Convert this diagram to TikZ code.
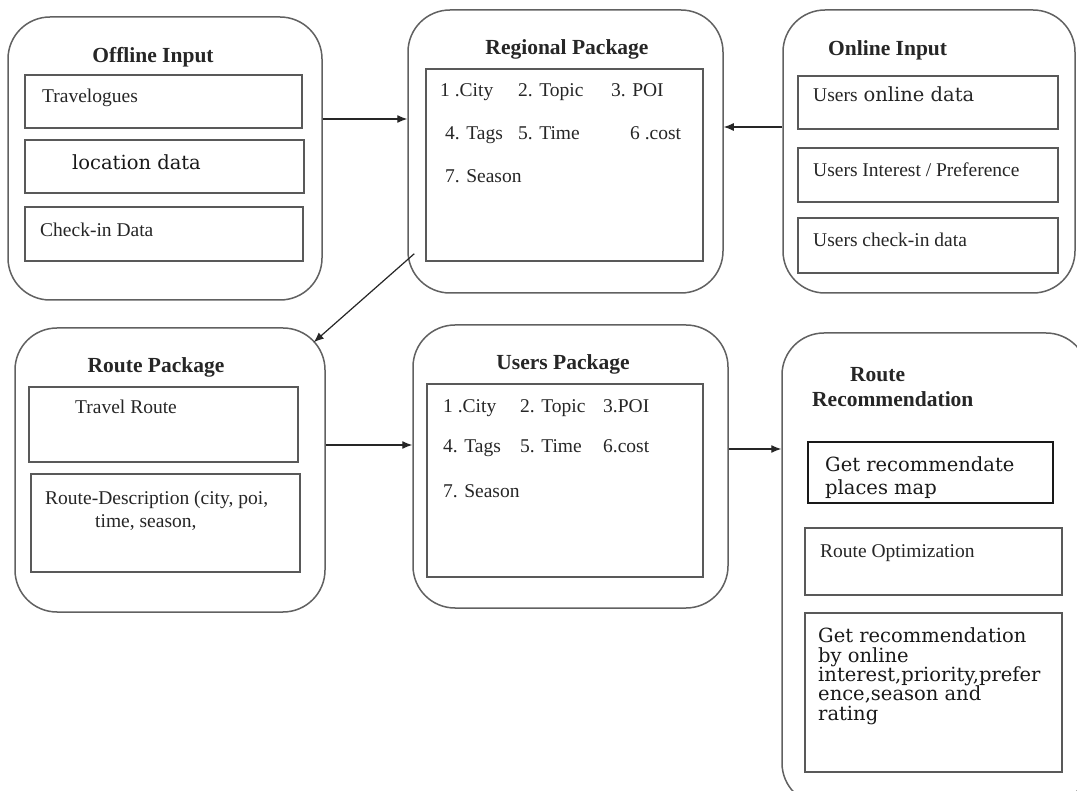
\documentclass[tikz,border=0pt]{standalone}
\usepackage{fontspec}
\setmainfont{Liberation Serif}
\newfontfamily\camfont{DejaVu Serif}
\usetikzlibrary{arrows.meta,calc}
\begin{document}
\begin{tikzpicture}[x=1pt,y=-1pt,
 outer/.style={draw=black!62, line width=1.5pt, rounded corners=42pt, inner sep=0pt},
 inbox/.style={draw=black!65, line width=1.8pt, inner sep=0pt},
 txt/.style={anchor=base west, inner sep=0pt, font=\fontsize{19.5}{22}\selectfont, text=black!85},
 ttl/.style={anchor=base, inner sep=0pt, font=\fontsize{21.5}{25}\selectfont\bfseries, text=black!85},
 cam/.style={anchor=base west, inner sep=0pt, font=\fontsize{19.5}{22}\camfont, text=black!90},
 arr/.style={-{Latex[length=10pt,width=8pt]}, line width=1.2pt, draw=black!85}
]
\clip (0,0) rectangle (1077,791);
\fill[white] (0,0) rectangle (1077,791);

% Offline Input
\node[outer, minimum width=314pt, minimum height=283pt] (off) at (165,158.5) {};
\node[ttl] (offt) at (153,63) {Offline Input};
\node[inbox, minimum width=277pt, minimum height=53pt] (off1) at (163.5,101.5) {};
\node[inbox, minimum width=279pt, minimum height=53pt] (off2) at (164.5,166.5) {};
\node[inbox, minimum width=278pt, minimum height=54pt] (off3) at (164,234) {};
\node[txt] (off1t) at (42,103) {Travelogues};
\node[cam] (off2t) at (72,170) {location data};
\node[txt] (off3t) at (40,237) {Check-in Data};

% Regional Package
\node[outer, minimum width=315pt, minimum height=283pt] (reg) at (565.5,151.5) {};
\node[ttl] (regt) at (567,55) {Regional Package};
\node[inbox, minimum width=277pt, minimum height=192pt] (regi) at (564.5,165) {};
\node[txt] (r1) at (440,97) {1 .City};
\node[txt] (r2) at (518,97) {2. Topic};
\node[txt] (r3) at (611,97) {3. POI};
\node[txt] (r4) at (445,140) {4. Tags};
\node[txt] (r5) at (518,140) {5. Time};
\node[txt] (r6) at (630,140) {6 .cost};
\node[txt] (r7) at (445,183) {7. Season};

% Online Input
\node[outer, minimum width=292pt, minimum height=283pt] (on) at (929,151.5) {};
\node[ttl, anchor=base west] (ont) at (828,56) {Online Input};
\node[inbox, minimum width=260pt, minimum height=53pt] (on1) at (928,102.5) {};
\node[inbox, minimum width=260pt, minimum height=54pt] (on2) at (928,175) {};
\node[inbox, minimum width=260pt, minimum height=55pt] (on3) at (928,245.5) {};
\node[txt] (on1t) at (813,102) {Users\hspace{6pt}{\camfont online data}};
\node[txt] (on2t) at (813,177) {Users Interest / Preference};
\node[txt] (on3t) at (813,247) {Users check-in data};

% Route Package
\node[outer, minimum width=310pt, minimum height=284pt] (rp) at (170,470) {};
\node[ttl] (rpt) at (156,373) {Route Package};
\node[inbox, minimum width=269pt, minimum height=75pt] (rp1) at (163.5,424.5) {};
\node[inbox, minimum width=269pt, minimum height=98pt] (rp2) at (165.5,523) {};
\node[txt] (rp1t) at (75,414) {Travel Route};
\node[txt, align=left, font=\fontsize{19.5}{23}\selectfont] (rp2t) at (45,528) {Route-Description (city, poi,\\\hspace*{50pt}time, season,};

% Users Package
\node[outer, minimum width=315pt, minimum height=283pt] (up) at (570.5,466.5) {};
\node[ttl] (upt) at (563,370) {Users Package};
\node[inbox, minimum width=276pt, minimum height=193pt] (upi) at (565,480.5) {};
\node[txt] (u1) at (443,413) {1 .City};
\node[txt] (u2) at (520,413) {2. Topic};
\node[txt] (u3) at (603,413) {3.POI};
\node[txt] (u4) at (443,453) {4. Tags};
\node[txt] (u5) at (520,453) {5. Time};
\node[txt] (u6) at (603,453) {6.cost};
\node[txt] (u7) at (443,498) {7. Season};

% Route Recommendation
\node[outer, minimum width=306pt, minimum height=472pt] (rec) at (935,569) {};
\node[ttl, align=left, anchor=base west, font=\fontsize{21.5}{25}\selectfont\bfseries] (rect) at (812,407) {\hspace*{38pt}Route\\Recommendation};
\node[inbox, draw=black!90, line width=1.5pt, minimum width=245pt, minimum height=61pt] (rec1) at (930.5,472.5) {};
\node[inbox, minimum width=257pt, minimum height=67pt] (rec2) at (933.5,561.5) {};
\node[inbox, minimum width=257pt, minimum height=159pt] (rec3) at (933.5,692.5) {};
\node[cam, align=left, font=\fontsize{19.5}{23}\camfont] (rec1t) at (825,495) {Get recommendate\\places map};
\node[txt] (rec2t) at (820,557) {Route Optimization};
\node[cam, align=left, font=\fontsize{19.5}{19.3}\camfont] (rec3t) at (818,720) {Get recommendation\\by online\\interest,priority,prefer\\ence,season and\\rating};

% Connectors
\draw[arr] (off.east |- 0,119) -- (reg.west |- 0,119);
\draw[arr] (on.west |- 0,127) -- (reg.east |- 0,127);
\draw[arr] ([xshift=7pt,yshift=40pt]reg.south west) -- ([xshift=-12pt,yshift=-15pt]rp.north east);
\draw[arr] (rp.east |- 0,445) -- (up.west |- 0,445);
\draw[arr] (up.east |- 0,449) -- (rec.west |- 0,449);
\end{tikzpicture}
\end{document}
